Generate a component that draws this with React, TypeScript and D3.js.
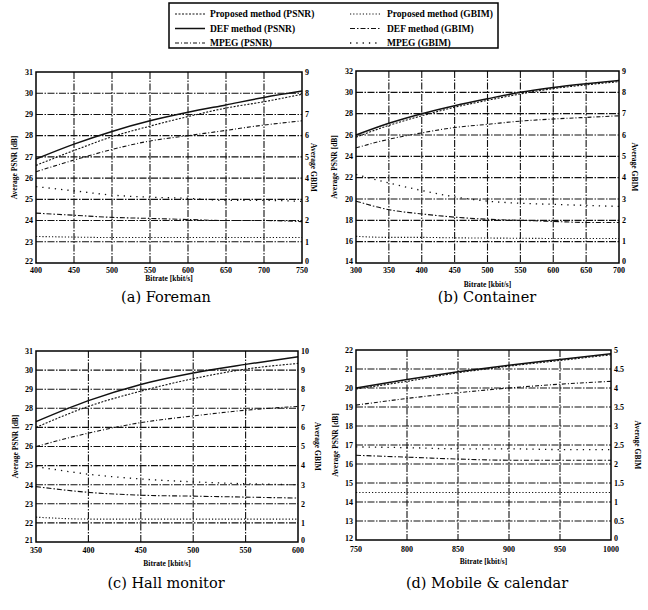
import React from "react";
import * as d3 from "d3";

// Foreman
const foremanRate = [400, 450, 500, 550, 600, 650, 700, 750];
const foremanPsnrProposed = [26.6, 27.3, 27.95, 28.45, 28.9, 29.3, 29.6, 29.95];
const foremanPsnrDef = [26.9, 27.6, 28.2, 28.7, 29.1, 29.45, 29.8, 30.1];
const foremanPsnrMpeg = [26.3, 26.85, 27.35, 27.75, 28.0, 28.25, 28.5, 28.7];
const foremanGbimProposed = [1.25, 1.22, 1.2, 1.2, 1.2, 1.2, 1.2, 1.2];
const foremanGbimDef = [2.35, 2.25, 2.15, 2.1, 2.05, 2.0, 2.0, 1.95];
const foremanGbimMpeg = [3.6, 3.4, 3.2, 3.1, 3.05, 2.95, 2.95, 2.9];

// Container
const containerRate = [300, 350, 400, 450, 500, 550, 600, 650, 700];
const containerPsnrProposed = [25.8, 26.9, 27.8, 28.6, 29.25, 29.85, 30.35, 30.7, 31.0];
const containerPsnrDef = [26.0, 27.1, 28.0, 28.75, 29.4, 30.0, 30.45, 30.8, 31.1];
const containerPsnrMpeg = [24.8, 25.6, 26.2, 26.7, 27.0, 27.3, 27.5, 27.65, 27.8];
const containerGbimProposed = [1.25, 1.2, 1.2, 1.18, 1.17, 1.16, 1.15, 1.15, 1.15];
const containerGbimDef = [2.9, 2.5, 2.3, 2.15, 2.05, 2.0, 1.95, 1.9, 1.9];
const containerGbimMpeg = [4.15, 3.75, 3.4, 3.1, 2.9, 2.8, 2.75, 2.7, 2.65];

// Hall monitor
const hallRate = [350, 400, 450, 500, 550, 600];
const hallPsnrProposed = [27.0, 28.1, 28.9, 29.55, 30.05, 30.35];
const hallPsnrDef = [27.3, 28.4, 29.25, 29.85, 30.3, 30.7];
const hallPsnrMpeg = [26.0, 26.7, 27.25, 27.6, 27.9, 28.1];
const hallGbimProposed = [1.3, 1.2, 1.2, 1.2, 1.2, 1.2];
const hallGbimDef = [2.9, 2.6, 2.45, 2.4, 2.35, 2.3];
const hallGbimMpeg = [3.95, 3.55, 3.3, 3.15, 3.05, 3.0];

// Mobile & calendar
const mobileRate = [750, 800, 850, 900, 950, 1000];
const mobilePsnrProposed = [19.95, 20.35, 20.8, 21.15, 21.45, 21.75];
const mobilePsnrDef = [20.0, 20.45, 20.85, 21.2, 21.5, 21.8];
const mobilePsnrMpeg = [19.1, 19.45, 19.75, 20.0, 20.2, 20.35];
const mobileGbimProposed = [1.25, 1.25, 1.25, 1.25, 1.25, 1.25];
const mobileGbimDef = [2.23, 2.18, 2.13, 2.1, 2.1, 2.1];
const mobileGbimMpeg = [2.45, 2.43, 2.4, 2.4, 2.38, 2.38];

const legendLabels = [
  "Proposed method (PSNR)",
  "DEF method (PSNR)",
  "MPEG (PSNR)",
  "Proposed method (GBIM)",
  "DEF method (GBIM)",
  "MPEG (GBIM)",
];

// line styles, same order as legendLabels
const styles = [
  { dash: "2,1.5", width: 1.1 },
  { dash: "", width: 1.5 },
  { dash: "4,2,1,2", width: 1.1 },
  { dash: "1.2,2", width: 1.1 },
  { dash: "5,2,1.5,2", width: 1.1 },
  { dash: "1.3,5", width: 1.3 },
];

const panels = [
  {
    caption: "(a) Foreman",
    box: { left: 36, right: 302, top: 72, bottom: 263 },
    xDomain: [400, 750], xTicks: d3.range(400, 751, 50),
    yDomain: [22, 31], yTicks: d3.range(22, 32, 1),
    y2Domain: [0, 9], y2Ticks: d3.range(0, 10, 1),
    rate: foremanRate,
    psnr: [foremanPsnrProposed, foremanPsnrDef, foremanPsnrMpeg],
    gbim: [foremanGbimProposed, foremanGbimDef, foremanGbimMpeg],
    leftLabelX: 14, rightLabelX: 314, capX: 166, capY: 302,
    tickY: 273, titleY: 281,
  },
  {
    caption: "(b) Container",
    box: { left: 356, right: 619, top: 71, bottom: 263 },
    xDomain: [300, 700], xTicks: d3.range(300, 701, 50),
    yDomain: [14, 32], yTicks: d3.range(14, 33, 2),
    y2Domain: [0, 9], y2Ticks: d3.range(0, 10, 1),
    rate: containerRate,
    psnr: [containerPsnrProposed, containerPsnrDef, containerPsnrMpeg],
    gbim: [containerGbimProposed, containerGbimDef, containerGbimMpeg],
    leftLabelX: 334, rightLabelX: 635, capX: 487, capY: 302,
    tickY: 273, titleY: 287,
  },
  {
    caption: "(c) Hall monitor",
    box: { left: 36, right: 298, top: 351, bottom: 542 },
    xDomain: [350, 600], xTicks: d3.range(350, 601, 50),
    yDomain: [21, 31], yTicks: d3.range(21, 32, 1),
    y2Domain: [0, 10], y2Ticks: d3.range(0, 11, 1),
    rate: hallRate,
    psnr: [hallPsnrProposed, hallPsnrDef, hallPsnrMpeg],
    gbim: [hallGbimProposed, hallGbimDef, hallGbimMpeg],
    leftLabelX: 15, rightLabelX: 318, capX: 166, capY: 588,
    tickY: 553, titleY: 566,
  },
  {
    caption: "(d) Mobile & calendar",
    box: { left: 356, right: 611, top: 350, bottom: 540 },
    xDomain: [750, 1000], xTicks: d3.range(750, 1001, 50),
    yDomain: [12, 22], yTicks: d3.range(12, 23, 1),
    y2Domain: [0, 5], y2Ticks: d3.range(0, 5.01, 0.5),
    rate: mobileRate,
    psnr: [mobilePsnrProposed, mobilePsnrDef, mobilePsnrMpeg],
    gbim: [mobileGbimProposed, mobileGbimDef, mobileGbimMpeg],
    leftLabelX: 335, rightLabelX: 638, capX: 487, capY: 588,
    tickY: 552, titleY: 564,
  },
];

const tickFont = "'Liberation Serif', serif";

function Panel({ p }: { p: any }) {
  const { left, right, top, bottom } = p.box;
  const x = d3.scaleLinear().domain(p.xDomain).range([left, right]);
  const y = d3.scaleLinear().domain(p.yDomain).range([bottom, top]);
  const y2 = d3.scaleLinear().domain(p.y2Domain).range([bottom, top]);
  const midY = (top + bottom) / 2;
  const yMin = p.yDomain[0];
  const y2Min = p.y2Domain[0];

  const lineFor = (scale: any) =>
    d3.line<number>()
      .x((_, i) => x(p.rate[i]))
      .y((d) => scale(d))
      .curve(d3.curveMonotoneX);

  return (
    <g>
      {/* grid, left and right axes share the same rows */}
      {p.xTicks.slice(1, -1).map((t: number) => (
        <line key={"gx" + t} x1={x(t)} x2={x(t)} y1={top} y2={bottom}
          stroke="#111" strokeWidth={1.1} strokeDasharray="7,1.5,1.5,1.5" />
      ))}
      {p.yTicks.slice(1, -1).map((t: number) => (
        <line key={"gy" + t} x1={left} x2={right} y1={y(t)} y2={y(t)}
          stroke="#111" strokeWidth={1.1} strokeDasharray="7,1.5,1.5,1.5" />
      ))}

      {/* series */}
      {p.psnr.map((s: number[], i: number) => (
        <path key={"p" + i} d={lineFor(y)(s) || ""} fill="none" stroke="#111"
          strokeWidth={styles[i].width} strokeDasharray={styles[i].dash} />
      ))}
      {p.gbim.map((s: number[], i: number) => (
        <path key={"g" + i} d={lineFor(y2)(s) || ""} fill="none" stroke="#111"
          strokeWidth={styles[i + 3].width} strokeDasharray={styles[i + 3].dash} />
      ))}

      <rect x={left} y={top} width={right - left} height={bottom - top}
        fill="none" stroke="#000" strokeWidth={1.5} />

      {/* ticks */}
      <g fontFamily={tickFont} fontWeight="bold" fontSize={8} fill="#000">
        {p.yTicks.map((t: number) => (
          <text key={"ly" + t} x={left - 3} y={y(t) - (t === yMin ? 2 : 0)} dy="0.35em"
            textAnchor="end">{t}</text>
        ))}
        {p.y2Ticks.map((t: number) => (
          <text key={"ry" + t} x={right + 3} y={y2(t) - (t === y2Min ? 2 : 0)} dy="0.35em"
            textAnchor="start">{t}</text>
        ))}
        {p.xTicks.map((t: number) => (
          <text key={"tx" + t} x={x(t)} y={p.tickY} textAnchor="middle">{t}</text>
        ))}
      </g>

      <g fontFamily={tickFont} fontWeight="bold" fontSize={7.5} fill="#000">
        <text x={(left + right) / 2} y={p.titleY} textAnchor="middle">Bitrate [kbit/s]</text>
        <text transform={`translate(${p.leftLabelX},${midY}) rotate(-90)`} textAnchor="middle"
          dy="0.35em">Average PSNR [dB]</text>
        <text transform={`translate(${p.rightLabelX},${midY}) rotate(90)`} textAnchor="middle"
          dy="0.35em">Average GBIM</text>
      </g>

      <text x={p.capX} y={p.capY} textAnchor="middle" fontFamily="'DejaVu Serif', serif"
        fontSize={14.5} fill="#000">{p.caption}</text>
    </g>
  );
}

function Legend() {
  const cols = [
    { lineX: 175, textX: 210 },
    { lineX: 350, textX: 387 },
  ];
  const rowY = [14, 28.5, 43];
  return (
    <g>
      <rect x={169} y={3} width={329} height={45} fill="none" stroke="#000" strokeWidth={1.5} />
      {legendLabels.map((lab, i) => {
        const c = cols[Math.floor(i / 3)];
        const yy = rowY[i % 3];
        return (
          <g key={lab}>
            <line x1={c.lineX} x2={c.lineX + 30} y1={yy} y2={yy} stroke="#111"
              strokeWidth={styles[i].width} strokeDasharray={styles[i].dash} />
            <text x={c.textX} y={yy} dy="0.35em" fontFamily={tickFont} fontWeight="bold"
              fontSize={9.5} fill="#000">{lab}</text>
          </g>
        );
      })}
    </g>
  );
}

export default function App() {
  return (
    <div style={{ position: "absolute", left: 0, top: 0 }}>
      <svg width={648} height={610} style={{ display: "block", background: "#fff" }}>
        <Legend />
        {panels.map((p) => (
          <Panel key={p.caption} p={p} />
        ))}
      </svg>
    </div>
  );
}
